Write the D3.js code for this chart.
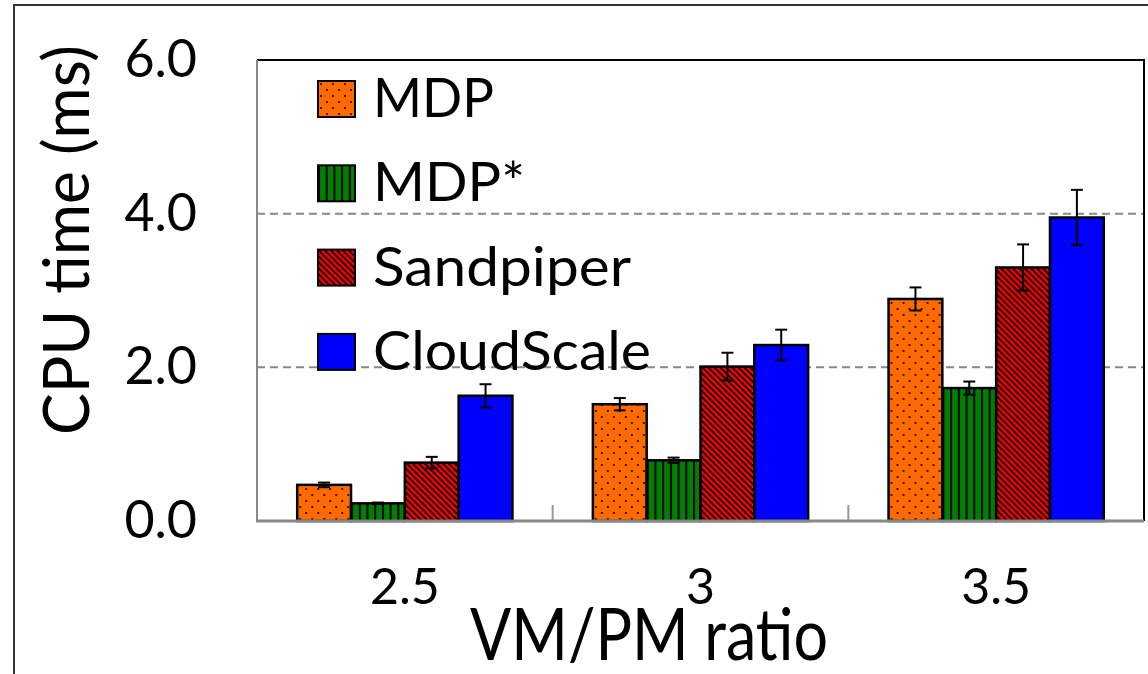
<!DOCTYPE html>
<html>
<head>
<meta charset="utf-8">
<script src="https://cdn.jsdelivr.net/npm/d3@7"></script>
<style>
  html, body { margin: 0; padding: 0; background: #fff; }
  svg { display: block; font-family: Lato, "Open Sans", sans-serif; }
</style>
</head>
<body>
<svg id="chart" width="1148" height="674"></svg>
<script>
// ---- data ----
const categories = ["2.5", "3", "3.5"];
const seriesNames = ["MDP", "MDP*", "Sandpiper", "CloudScale"];
const mdp        = [0.47, 1.52, 2.89];
const mdpErr     = [0.03, 0.08, 0.15];
const mdpStar    = [0.23, 0.79, 1.73];
const mdpStarErr = [0.01, 0.035, 0.085];
const sandpiper    = [0.76, 2.01, 3.30];
const sandpiperErr = [0.075, 0.18, 0.30];
const cloudscale    = [1.63, 2.29, 3.95];
const cloudscaleErr = [0.15, 0.20, 0.36];
const yTicks = [0, 2, 4, 6];

const seriesValues = [mdp, mdpStar, sandpiper, cloudscale];
const seriesErrors = [mdpErr, mdpStarErr, sandpiperErr, cloudscaleErr];
const fills = ["url(#pMDP)", "url(#pMDPs)", "url(#pSand)", "#0000FF"];

const svg = d3.select("#chart");
const L = 257, R = 1144, T = 60, B = 521;

// ---- patterns ----
const defs = svg.append("defs");
const p1 = defs.append("pattern").attr("id", "pMDP").attr("patternUnits", "userSpaceOnUse")
  .attr("width", 12).attr("height", 12);
p1.append("rect").attr("width", 12).attr("height", 12).attr("fill", "#FF6A00");
p1.append("rect").attr("x", 2).attr("y", 2).attr("width", 2).attr("height", 2).attr("fill", "#3a1a00");
p1.append("rect").attr("x", 8).attr("y", 8).attr("width", 2).attr("height", 2).attr("fill", "#3a1a00");

const p2 = defs.append("pattern").attr("id", "pMDPs").attr("patternUnits", "userSpaceOnUse")
  .attr("width", 7.7).attr("height", 10);
p2.append("rect").attr("width", 7.7).attr("height", 10).attr("fill", "#008000");
p2.append("rect").attr("x", 0).attr("width", 2).attr("height", 10).attr("fill", "#000");

const p3 = defs.append("pattern").attr("id", "pSand").attr("patternUnits", "userSpaceOnUse")
  .attr("width", 6).attr("height", 6);
p3.append("rect").attr("width", 6).attr("height", 6).attr("fill", "#FF0000");
p3.append("path").attr("d", "M0,0 L6,6 M-1,5 L1,7 M5,-1 L7,1")
  .attr("stroke", "#000").attr("stroke-width", 1.8);

// ---- outer frame ----
svg.append("rect").attr("x", 14).attr("y", 5).attr("width", 1200).attr("height", 720)
  .attr("fill", "none").attr("stroke", "#333").attr("stroke-width", 2);

// ---- scales ----
const x0 = d3.scaleBand().domain(categories).range([L, R]).paddingInner(0.272).paddingOuter(0.136);
const x1 = d3.scaleBand().domain(seriesNames).range([0, x0.bandwidth()]).padding(0);
const y = d3.scaleLinear().domain([0, 6]).range([B, T]);

// ---- gridlines ----
svg.append("g").selectAll("line").data([2, 4]).join("line")
  .attr("x1", L).attr("x2", R).attr("y1", d => y(d)).attr("y2", d => y(d))
  .attr("stroke", "#888").attr("stroke-width", 2).attr("stroke-dasharray", "8,5");

// plot border top/right (black)
svg.append("path").attr("d", `M${L},${T} H${R} V${B}`).attr("fill", "none")
  .attr("stroke", "#000").attr("stroke-width", 2);

// category separator ticks
svg.append("g").selectAll("line").data(categories.slice(1)).join("line")
  .attr("x1", d => x0(d) - x0.step() * x0.paddingInner() / 2)
  .attr("x2", d => x0(d) - x0.step() * x0.paddingInner() / 2)
  .attr("y1", B - 16).attr("y2", B)
  .attr("stroke", "#999").attr("stroke-width", 2);

// ---- bars ----
const groups = svg.append("g").selectAll("g").data(categories).join("g")
  .attr("transform", d => `translate(${x0(d)},0)`);

groups.each(function(cat, ci) {
  const g = d3.select(this);
  seriesNames.forEach((s, si) => {
    const v = seriesValues[si][ci];
    g.append("rect")
      .attr("x", x1(s)).attr("y", y(v))
      .attr("width", x1.bandwidth()).attr("height", y(0) - y(v))
      .attr("fill", fills[si]).attr("stroke", "#000").attr("stroke-width", 2.5);
  });
  seriesNames.forEach((s, si) => {
    const v = seriesValues[si][ci], e = seriesErrors[si][ci];
    const cx = x1(s) + x1.bandwidth() / 2;
    const eg = g.append("g").attr("stroke", "#000").attr("stroke-width", 2);
    eg.append("line").attr("x1", cx).attr("x2", cx).attr("y1", y(v - e)).attr("y2", y(v + e));
    eg.append("line").attr("x1", cx - 6).attr("x2", cx + 6).attr("y1", y(v - e)).attr("y2", y(v - e));
    eg.append("line").attr("x1", cx - 6).attr("x2", cx + 6).attr("y1", y(v + e)).attr("y2", y(v + e));
  });
});

// ---- axes ----
svg.append("line").attr("x1", L).attr("x2", L).attr("y1", T).attr("y2", B)
  .attr("stroke", "#888").attr("stroke-width", 2);
svg.append("line").attr("x1", L - 1).attr("x2", R).attr("y1", B).attr("y2", B)
  .attr("stroke", "#888").attr("stroke-width", 3);

const yAxis = svg.append("g").attr("transform", `translate(${L},0)`)
  .call(d3.axisLeft(y).tickValues(yTicks).tickFormat(d3.format(".1f")).tickSize(0).tickPadding(60));
yAxis.select(".domain").remove();
yAxis.selectAll("text").attr("font-size", 52).attr("font-family", "Lato").attr("fill", "#000");

const xAxis = svg.append("g").attr("transform", `translate(0,${B})`)
  .call(d3.axisBottom(x0).tickSize(0).tickPadding(0));
xAxis.select(".domain").remove();
xAxis.selectAll("text").attr("font-size", 50).attr("font-family", "Lato").attr("fill", "#000")
  .attr("dy", null).attr("y", 83);

// ---- axis titles ----
svg.append("text").attr("x", 649).attr("y", 660).attr("text-anchor", "middle")
  .attr("font-size", 72).attr("fill", "#000")
  .attr("textLength", 358).attr("lengthAdjust", "spacingAndGlyphs")
  .text("VM/PM ratio");

svg.append("text").attr("transform", "translate(89,240) rotate(-90)").attr("text-anchor", "middle")
  .attr("font-size", 64).attr("fill", "#000")
  .attr("textLength", 390).attr("lengthAdjust", "spacingAndGlyphs")
  .text("CPU time (ms)");

// ---- legend ----
const legendWidths = [121, 152, 258, 278];
const leg = svg.append("g").selectAll("g").data(seriesNames).join("g")
  .attr("transform", (d, i) => `translate(318,${81 + i * 84.3})`);
leg.append("rect").attr("width", 37).attr("height", 36)
  .attr("fill", (d, i) => fills[i]).attr("stroke", "#000").attr("stroke-width", 2);
leg.append("text").attr("x", 55).attr("y", 36)
  .attr("font-size", 54).attr("fill", "#000")
  .attr("textLength", (d, i) => legendWidths[i]).attr("lengthAdjust", "spacingAndGlyphs")
  .text(d => d);
</script>
</body>
</html>
